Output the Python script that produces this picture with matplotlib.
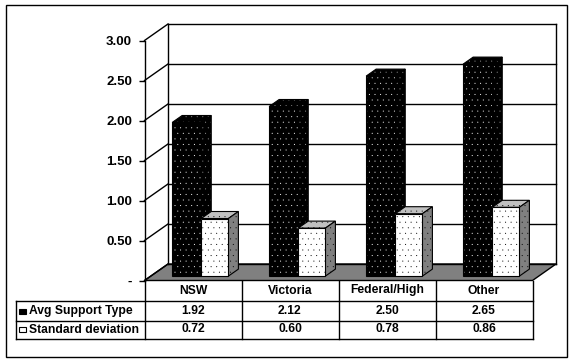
import numpy as np
import matplotlib
matplotlib.use('Agg')
import matplotlib.pyplot as plt
from matplotlib.patches import Polygon, Rectangle

categories = ['NSW', 'Victoria', 'Federal/High', 'Other']
avg_support = [1.92, 2.12, 2.50, 2.65]
std_dev = [0.72, 0.60, 0.78, 0.86]
series_names = ['Avg Support Type', 'Standard deviation']
y_ticks = [0, 0.5, 1, 1.5, 2, 2.5, 3]
y_labels = ['-', '0.50', '1.00', '1.50', '2.00', '2.50', '3.00']

plt.rcParams['font.family'] = 'Liberation Sans'
plt.rcParams['font.weight'] = 'bold'
plt.rcParams['font.size'] = 8.7
plt.rcParams['hatch.linewidth'] = 0.0

W, H = 572, 362
fig = plt.figure(figsize=(W / 100, H / 100), dpi=100, facecolor='white')

# overlay in pixels for frame and table
pix = fig.add_axes([0, 0, 1, 1], zorder=3)
pix.set_xlim(0, W)
pix.set_ylim(H, 0)
pix.axis('off')
pix.patch.set_alpha(0)

# main axes = front plane of the 3d box
x0, x1, y0, y1 = 144.5, 532.5, 280.5, 40.5
ax = fig.add_axes([x0 / W, (H - y0) / H, (x1 - x0) / W, (y0 - y1) / H], zorder=2)
ax.set_xlim(0, len(categories))
ax.set_ylim(0, 3)
ax.patch.set_alpha(0)
for s in ['top', 'right', 'bottom']:
    ax.spines[s].set_visible(False)
ax.spines['left'].set_linewidth(1)
ax.set_xticks([])
ax.set_yticks(y_ticks)
ax.set_yticklabels(y_labels, fontsize=9.5)
ax.tick_params(axis='y', length=4, width=1, pad=5)

depth_x = 23.5 / 97
depth_y = 16.5 / 80
n = len(categories)

# floor
ax.add_patch(Polygon([(0, 0), (depth_x, depth_y), (n + depth_x, depth_y), (n, 0)],
                     fc='#808080', ec='black', lw=1, clip_on=False, zorder=1))
# back wall + gridlines + diagonals
for t in y_ticks:
    ax.plot([depth_x, n + depth_x], [t + depth_y] * 2, color='black', lw=1, clip_on=False, zorder=1)
    ax.plot([0, depth_x], [t, t + depth_y], color='black', lw=1, clip_on=False, zorder=1)
ax.plot([depth_x, depth_x], [depth_y, 3 + depth_y], color='black', lw=1, clip_on=False, zorder=1)
ax.plot([n + depth_x, n + depth_x], [depth_y, 3 + depth_y], color='black', lw=1, clip_on=False, zorder=1)


def bar3d(left, width, val, front, dots, top, side, side_dots, z):
    base = 0.055
    bx = 10 / 97
    by = 7 / 80
    r = left + width
    h = base + val
    faces = [
        ([(left, h), (left + bx, h + by), (r + bx, h + by), (r, h)], top, side_dots),
        ([(r, base), (r + bx, base + by), (r + bx, h + by), (r, h)], side, side_dots),
        ([(left, base), (left, h), (r, h), (r, base)], front, dots),
    ]
    for pts, fc, hc in faces:
        ax.add_patch(Polygon(pts, fc=fc, ec=hc, hatch='...', lw=0, clip_on=False, zorder=z))
        ax.add_patch(Polygon(pts, fill=False, ec='black', lw=0.8, clip_on=False, zorder=z))


for i in range(n):
    bar3d(i + 0.285, 0.30, avg_support[i], 'black', 'white', 'black', 'black', '#999999', 4)
    bar3d(i + 0.585, 0.28, std_dev[i], 'white', 'black', '#c0c0c0', '#808080', 'black', 5)

# outer frame
pix.add_patch(Rectangle((5.5, 4.5), 561, 352.5, fill=False, ec='black', lw=1))

# data table
col_x = [x0 + i * (x1 - x0) / n for i in range(n + 1)]
row_y = [280.5, 300.5, 320.5, 338.5]
for y in row_y[1:]:
    pix.plot([15.5, x1], [y, y], color='black', lw=1)
pix.plot([15.5, 15.5], [row_y[1], row_y[3]], color='black', lw=1)
for x in col_x:
    pix.plot([x, x], [row_y[0], row_y[3]], color='black', lw=1)

for i in range(n):
    cx = (col_x[i] + col_x[i + 1]) / 2
    pix.text(cx, 290.5, categories[i], ha='center', va='center')
    pix.text(cx, 310.5, '%.2f' % avg_support[i], ha='center', va='center')
    pix.text(cx, 329.5, '%.2f' % std_dev[i], ha='center', va='center')

pix.add_patch(Rectangle((19, 309), 7, 4.5, fc='black', ec='black', lw=0.8))
pix.add_patch(Rectangle((19, 327), 7, 4.5, fc='white', ec='black', lw=0.8))
pix.text(29, 311, series_names[0], ha='left', va='center')
pix.text(29, 330, series_names[1], ha='left', va='center')

fig.savefig('out.png', dpi=100)
